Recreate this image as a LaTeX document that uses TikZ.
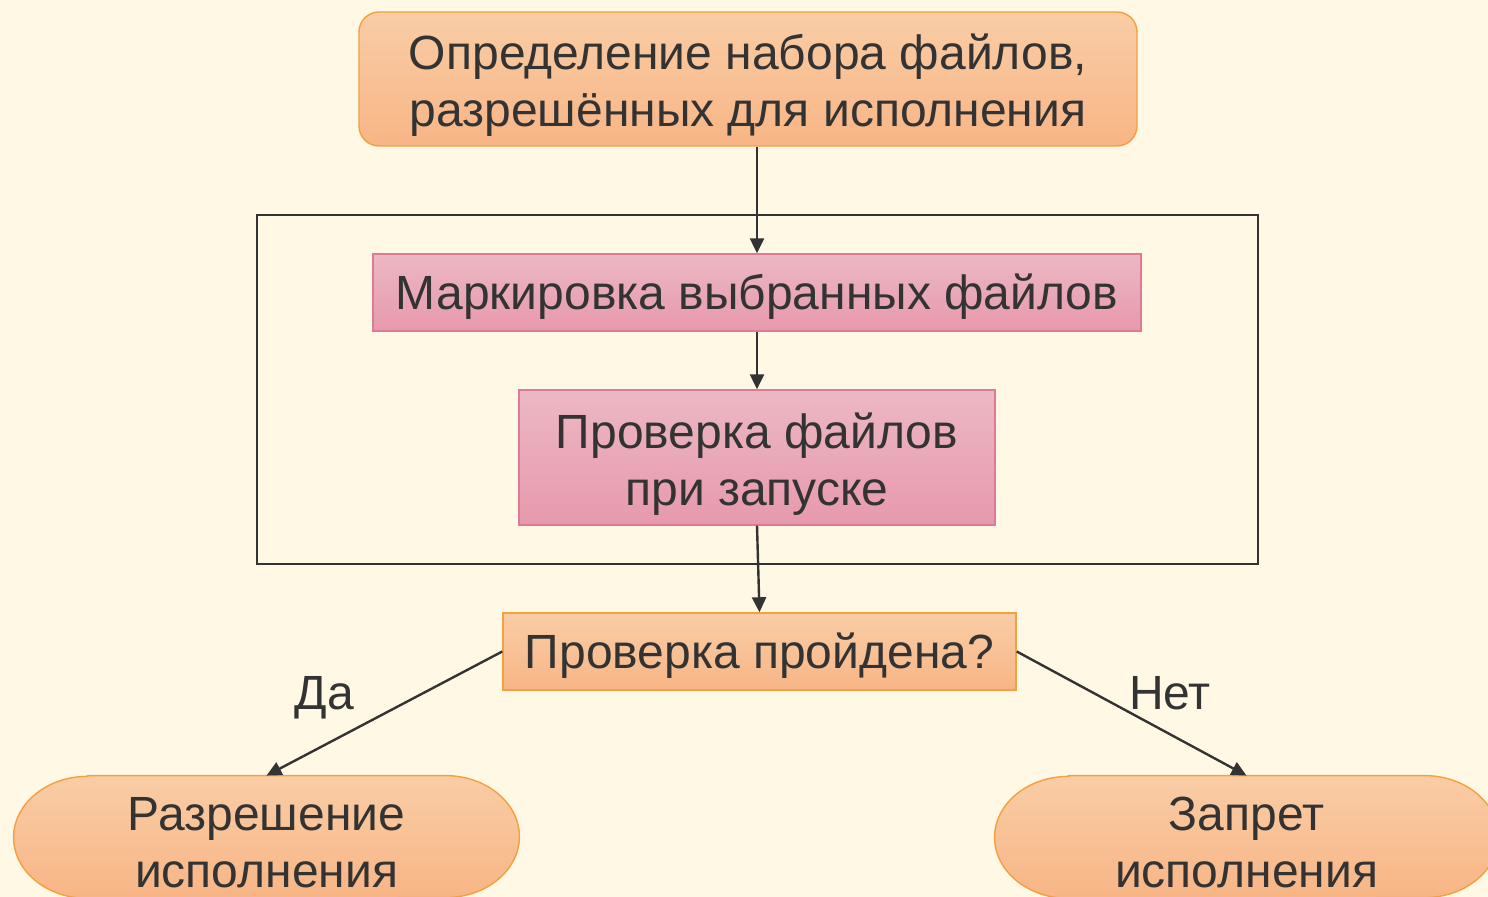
\documentclass[tikz,border=0pt]{standalone}
\usepackage{fontspec}
\setmainfont{Liberation Sans}
\usetikzlibrary{arrows.meta,backgrounds}
\definecolor{bginner}{HTML}{FFF8E5}
\definecolor{bgouter}{HTML}{FDEABD}
\definecolor{txt}{HTML}{333333}
\definecolor{orangetop}{HTML}{F9CDA6}
\definecolor{orangebot}{HTML}{F8B585}
\definecolor{orangeline}{HTML}{F4A040}
\definecolor{pinktop}{HTML}{ECB8C3}
\definecolor{pinkbot}{HTML}{E799AC}
\definecolor{pinkline}{HTML}{DD7A95}
\pgfdeclareradialshading{bgshade}{\pgfpoint{0bp}{0bp}}{color(0bp)=(bginner); color(38bp)=(bginner); color(72bp)=(bgouter)}
\tikzset{
  bigtext/.style={text=txt, font=\fontsize{24}{28.5}\selectfont, align=center, inner sep=0pt,
    execute at begin node={\rule{0pt}{21.5pt}}},
  orangefill/.style={draw=orangeline, line width=0.7pt, top color=orangetop, bottom color=orangebot},
  orangebox/.style={bigtext, orangefill},
  pinkbox/.style={bigtext, draw=pinkline, line width=0.7pt, top color=pinktop, bottom color=pinkbot},
  flow/.style={draw=txt, line width=1.2pt, -{Triangle[width=7pt,length=7.5pt]}},
  framebox/.style={draw=txt, line width=1.1pt}
}
% taller first line, so two-line texts sit a little lower
\newcommand{\firstline}[1][24pt]{\rule{0pt}{#1}}
% oval outline with flat top and bottom behind a named node
\newcommand{\stadiumbehind}[1]{%
  \path[orangefill] ([xshift=37pt]#1.north west) -- ([xshift=-37pt]#1.north east)
    arc[start angle=90, end angle=-90, x radius=37pt, y radius=30.5pt]
    -- ([xshift=37pt]#1.south west)
    arc[start angle=270, end angle=90, x radius=37pt, y radius=30.5pt] -- cycle;}
\begin{document}
\begin{tikzpicture}[x=1pt,y=1pt]
  \useasboundingbox (0,0) rectangle (744,448.5);

  % frame round the two steps
  \draw[framebox] (128.5,166.5) rectangle (629,341);

  % boxes
  \node[orangebox, rounded corners=10pt, minimum width=389pt, minimum height=67pt]
    (choose) at (374,409) {\firstline Определение набора файлов,\\разрешённых для исполнения};
  \node[pinkbox, minimum width=384pt, minimum height=38.5pt]
    (mark) at (378.5,302.25) {Маркировка выбранных файлов};
  \node[pinkbox, minimum width=238pt, minimum height=67.5pt]
    (check) at (378.5,219.75) {\firstline Проверка файлов\\при запуске};
  \node[orangebox, minimum width=256.5pt, minimum height=38.5pt]
    (passed) at (379.75,122.75) {Проверка пройдена?};

  % outcomes
  \node[bigtext, minimum width=252.5pt, minimum height=61pt]
    (allow) at (133.25,30) {\firstline[22.5pt]Разрешение\\исполнения};
  \node[bigtext, minimum width=251.5pt, minimum height=61pt]
    (deny) at (623.25,30) {\firstline[22.5pt]Запрет\\исполнения};

  % arrows
  \draw[flow] (mark.north |- choose.south) -- (mark.north);
  \draw[flow] (mark.south) -- (check.north);
  \draw[flow] (check.south) -- (passed.north);
  \draw[flow] (passed.west) -- (allow.north);
  \draw[flow] (passed.east) -- (deny.north);

  % labels
  \node[bigtext, anchor=base] (yes) at (162.25,93.5) {Да};
  \node[bigtext, anchor=base] (no) at (585,93.5) {Нет};

  % background and ovals
  \begin{pgfonlayer}{background}
    \shade[shading=bgshade] (0,0) rectangle (744,448.5);
    \stadiumbehind{allow}
    \stadiumbehind{deny}
  \end{pgfonlayer}
\end{tikzpicture}
\end{document}
